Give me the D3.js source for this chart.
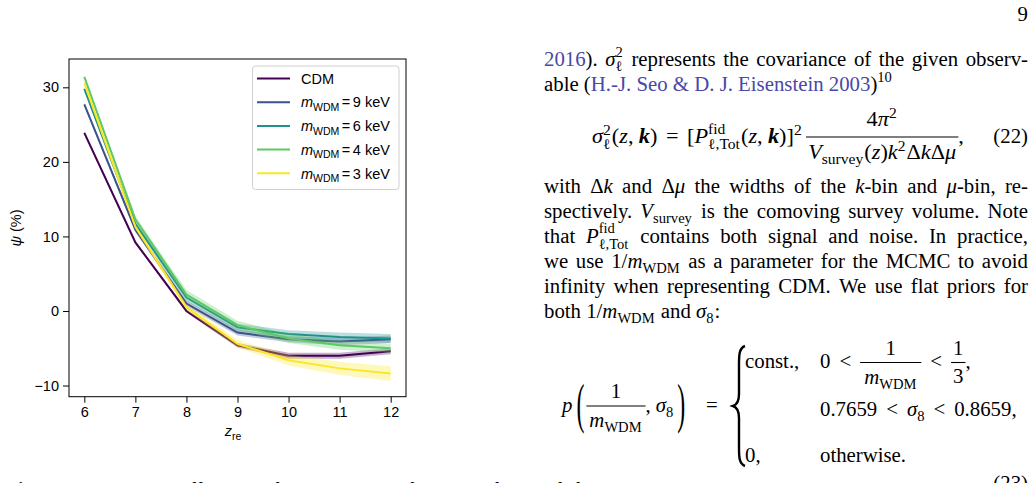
<!DOCTYPE html>
<html>
<head>
<meta charset="utf-8">
<script src="https://cdn.jsdelivr.net/npm/d3@7"></script>
<style>
  html, body { margin: 0; padding: 0; background: #fff; }
  svg { display: block; }
</style>
</head>
<body>
<div id="page"></div>
<script>
// Chart data
const zre = [6, 7, 8, 9, 10, 11, 12];
const seriesLabels = ["CDM", "9", "6", "4", "3"];
const seriesColors = ["#440154", "#3b528b", "#21918c", "#5ec962", "#fde725"];

const psiCDM  = [23.9, 9.2, 0.0, -4.6, -6.0, -6.0, -5.4];
const psi9keV = [27.7, 10.9, 1.0, -2.9, -3.8, -4.1, -3.8];
const psi6keV = [29.8, 11.7, 1.8, -2.2, -3.1, -3.5, -3.7];
const psi4keV = [31.4, 12.3, 2.2, -1.9, -3.7, -4.6, -5.0];
const psi3keV = [30.6, 11.3, 0.5, -4.4, -6.6, -7.7, -8.4];

const errCDM  = [0.2, 0.2, 0.2, 0.3, 0.4, 0.4, 0.4];
const err9keV = [0.2, 0.3, 0.4, 0.4, 0.4, 0.5, 0.5];
const err6keV = [0.2, 0.3, 0.5, 0.5, 0.5, 0.6, 0.6];
const err4keV = [0.2, 0.4, 0.6, 0.6, 0.6, 0.6, 0.6];
const err3keV = [0.2, 0.3, 0.4, 0.5, 0.7, 0.9, 1.0];

const yTicks = [-10, 0, 10, 20, 30];
const xTicks = [6, 7, 8, 9, 10, 11, 12];

const seriesValues = [psiCDM, psi9keV, psi6keV, psi4keV, psi3keV];
const seriesErrors = [errCDM, err9keV, err6keV, err4keV, err3keV];

const W = 1035, H = 483;
const SANS = "'Liberation Sans', Arial, Helvetica, sans-serif";
const SERIF = "'Liberation Serif', 'Times New Roman', 'DejaVu Serif', serif";
const FS = 20.8;
const LINK = "#4848a8";

const svg = d3.select("#page").append("svg")
  .attr("width", W)
  .attr("height", H);

// ---------- chart ----------
const x = d3.scaleLinear().domain([5.7, 12.3]).range([69, 406]);
const y = d3.scaleLinear().domain([-11.5, 33.8]).range([396.7, 59]);

const chart = svg.append("g");

const area = d3.area()
  .x((d, i) => x(zre[i]))
  .y0(d => y(d[0]))
  .y1(d => y(d[1]));

const line = d3.line()
  .x((d, i) => x(zre[i]))
  .y(d => y(d));

seriesValues.forEach((vals, s) => {
  const band = vals.map((v, i) => [v - seriesErrors[s][i], v + seriesErrors[s][i]]);
  chart.append("path")
    .attr("d", area(band))
    .attr("fill", seriesColors[s])
    .attr("fill-opacity", 0.3);
  chart.append("path")
    .attr("d", line(vals))
    .attr("fill", "none")
    .attr("stroke", seriesColors[s])
    .attr("stroke-width", 2);
});

const minus = d => d < 0 ? "\u2212" + Math.abs(d) : String(d);

const yAxis = chart.append("g")
  .attr("transform", "translate(69,0)")
  .call(d3.axisLeft(y).tickValues(yTicks).tickSize(6).tickPadding(4).tickFormat(minus));
const xAxis = chart.append("g")
  .attr("transform", "translate(0,396.7)")
  .call(d3.axisBottom(x).tickValues(xTicks).tickSize(6).tickPadding(4).tickFormat(d3.format("d")));

[yAxis, xAxis].forEach(a => {
  a.select(".domain").remove();
  a.selectAll("line").attr("stroke", "#000").attr("stroke-width", 1);
  a.selectAll("text")
    .attr("font-family", SANS)
    .attr("font-size", 14.5)
    .attr("fill", "#000");
});

chart.append("rect")
  .attr("x", 69).attr("y", 59)
  .attr("width", 406 - 69).attr("height", 396.7 - 59)
  .attr("fill", "none")
  .attr("stroke", "#000")
  .attr("stroke-width", 1);

// axis labels
const xl = chart.append("text")
  .attr("x", 233).attr("y", 436)
  .attr("text-anchor", "middle")
  .attr("font-family", SANS)
  .attr("font-size", 14.5);
xl.append("tspan").attr("font-style", "italic").text("z");
xl.append("tspan").attr("font-size", 10.5).attr("dy", 3.5).text("re");

const yl = chart.append("text")
  .attr("transform", "translate(21,228) rotate(-90)")
  .attr("text-anchor", "middle")
  .attr("font-family", SANS)
  .attr("font-size", 14.5);
yl.append("tspan").attr("font-style", "italic").text("\u03c8");
yl.append("tspan").text(" (%)");

// legend
const legend = chart.append("g");
legend.append("rect")
  .attr("x", 252.5).attr("y", 66)
  .attr("width", 146.5).attr("height", 123.5)
  .attr("rx", 3)
  .attr("fill", "#fff")
  .attr("fill-opacity", 0.8)
  .attr("stroke", "#d0d0d0")
  .attr("stroke-width", 1);

seriesLabels.forEach((lab, i) => {
  const ly = 78.5 + i * 23.7;
  legend.append("line")
    .attr("x1", 257).attr("x2", 290)
    .attr("y1", ly).attr("y2", ly)
    .attr("stroke", seriesColors[i])
    .attr("stroke-width", 2);
  const t = legend.append("text")
    .attr("x", 301).attr("y", ly + 5.2)
    .attr("font-family", SANS)
    .attr("font-size", 14.5);
  if (lab === "CDM") {
    t.text("CDM");
  } else {
    t.append("tspan").attr("font-style", "italic").text("m");
    t.append("tspan").attr("font-size", 10.5).attr("dy", 3.5).text("WDM");
    t.append("tspan").attr("dy", -3.5).attr("dx", 2.5).text("=");
    t.append("tspan").attr("dx", 2.5).text(lab + " keV");
  }
});

// ---------- text column (small typesetting helpers) ----------
const page = svg.append("g");
let target = page; // group that new text pieces go into

function styleText(sel, st) {
  sel.attr("font-family", SERIF)
    .attr("font-size", st.size || FS)
    .attr("font-style", st.it ? "italic" : "normal")
    .attr("font-weight", st.b ? "bold" : "normal")
    .attr("fill", st.link ? LINK : "#000");
}

function measure(str, st) {
  const el = target.append("text").text(str);
  styleText(el, st);
  return { el, w: el.node().getComputedTextLength() };
}

function buildRow(parts) {
  return parts.flatMap(buildBox);
}

function rowWidth(boxes) {
  return d3.sum(boxes, b => b.w);
}

function flatten(boxes, dx0, dy0) {
  let dx = dx0;
  const items = [];
  boxes.forEach(b => {
    if (b.kind === "box") b.items.forEach(it => items.push(Object.assign({}, it, { dx: it.dx + dx, dy: it.dy + dy0 })));
    dx += b.w;
  });
  return items;
}

function buildBox(part) {
  if (typeof part === "string") part = { t: part };
  if (part.kern !== undefined) return [{ kind: "kern", w: part.kern }];
  if (part.frac) {
    const num = buildRow(part.frac[0]);
    const den = buildRow(part.frac[1]);
    const wn = rowWidth(num), wd = rowWidth(den);
    const pad = part.pad !== undefined ? part.pad : 2;
    const w = Math.max(wn, wd) + 2 * pad;
    const ax = part.ax || 5.5;
    const items = flatten(num, pad + (w - 2 * pad - wn) / 2, -(part.nu || 15))
      .concat(flatten(den, pad + (w - 2 * pad - wd) / 2, part.dd || 15));
    const bar = target.append("line").attr("stroke", "#000").attr("stroke-width", 1.1);
    items.push({ node: bar, line: true, dx: 0, dy: -ax, len: w });
    return [{ kind: "box", w, items }];
  }
  if (part.sup !== undefined || part.sub !== undefined) {
    const size = part.size || FS * 0.7;
    const items = [];
    let w = 0;
    if (part.sup !== undefined) {
      const m = measure(part.sup, { size, it: part.supIt });
      items.push({ node: m.el, dx: 0, dy: part.supDy || -FS * 0.4 });
      w = Math.max(w, m.w);
    }
    if (part.sub !== undefined) {
      const m = measure(part.sub, { size, it: part.subIt });
      items.push({ node: m.el, dx: part.subDx || 0, dy: part.subDy || FS * 0.27 });
      w = Math.max(w, m.w + (part.subDx || 0));
    }
    return [{ kind: "box", w: w + 1, items }];
  }
  const out = [];
  part.t.split(/( )/).forEach(tok => {
    if (!tok) return;
    if (tok === " ") out.push({ kind: "space", w: FS * 0.25 });
    else {
      const m = measure(tok, part);
      out.push({ kind: "box", w: m.w, items: [{ node: m.el, dx: 0, dy: part.dy || 0 }] });
    }
  });
  return out;
}

function place(boxes, x0, y0, extra) {
  let xx = x0;
  boxes.forEach(b => {
    if (b.kind === "box") {
      b.items.forEach(it => {
        if (it.line) {
          it.node.attr("x1", xx + it.dx).attr("x2", xx + it.dx + it.len)
            .attr("y1", y0 + it.dy).attr("y2", y0 + it.dy);
        } else {
          it.node.attr("x", xx + it.dx).attr("y", y0 + it.dy);
        }
      });
    }
    xx += b.w + (b.kind === "space" ? extra : 0);
  });
  return xx;
}

const COL_X = 544, COL_W = 484;

function textLine(yBase, parts, justify) {
  const boxes = buildRow(parts);
  const nat = rowWidth(boxes);
  const nSp = boxes.filter(b => b.kind === "space").length;
  const extra = justify && nSp ? (COL_W - nat) / nSp : 0;
  place(boxes, COL_X, yBase, extra);
}

function mathRow(x0, yBase, parts) {
  return place(buildRow(parts), x0, yBase, 0);
}

const it = s => ({ t: s, it: true });
const bk = s => ({ t: s, it: true, b: true });
const sub = s => ({ sub: s, subDy: FS * 0.25 });
const fidTot = { sup: "fid", sub: "\u2113,Tot", supDy: -FS * 0.45, subDy: FS * 0.3 };

// page number
page.append("text").attr("x", 1028).attr("y", 21).attr("text-anchor", "end")
  .call(styleText, {}).text("9");

// paragraph lines
textLine(65.5, [{ t: "2016", link: true }, "). ", it("\u03c3"), { sup: "2", sub: "\u2113" },
  " represents the covariance of the given observ-"], true);
textLine(90.5, ["able (", { t: "H.-J. Seo & D. J. Eisenstein 2003", link: true }, ")",
  { sup: "10", supDy: -FS * 0.42 }], false);

// equation (22), widened a little to match the wider math font of the original
{
  const yb = 143, x0 = 592;
  target = page.append("g").attr("transform", `translate(${x0},0) scale(1.07,1) translate(${-x0},0)`);
  mathRow(x0, yb, [
    it("\u03c3"), { sup: "2", sub: "\u2113" }, "(", it("z"), ",", { kern: 5 }, bk("k"), ")",
    { kern: 8 }, "=", { kern: 8 }, "[", it("P"), fidTot,
    "(", it("z"), ",", { kern: 5 }, bk("k"), ")", "]", { sup: "2" }, { kern: 3 },
    { frac: [["4", it("\u03c0"), { sup: "2" }],
             [it("V"), sub("survey"), "(", it("z"), ")", it("k"), { sup: "2" }, "\u0394", it("k"), "\u0394", it("\u03bc")]],
      nu: 17, dd: 16, ax: 6 },
    ","
  ]);
  target = page;
  page.append("text").attr("x", 1028).attr("y", yb).attr("text-anchor", "end")
    .call(styleText, {}).text("(22)");
}

textLine(192.5, ["with ", "\u0394", it("k"), " and ", "\u0394", it("\u03bc"), " the widths of the ", it("k"),
  "-bin and ", it("\u03bc"), "-bin, re-"], true);
textLine(217.5, ["spectively. ", it("V"), sub("survey"), " is the comoving survey volume. Note"], true);
textLine(242.5, ["that ", it("P"), fidTot, " contains both signal and noise. In practice,"], true);
textLine(267.5, ["we use 1/", it("m"), sub("WDM"), " as a parameter for the MCMC to avoid"], true);
textLine(292.5, ["infinity when representing CDM. We use flat priors for"], true);
textLine(317.5, ["both 1/", it("m"), sub("WDM"), " and ", it("\u03c3"), sub("8"), ":"], false);

// equation (23)
{
  const yb = 412;
  // tall thin parenthesis: a normal glyph stretched vertically around the math axis
  const bigParen = (s, px) => {
    const t = page.append("text")
      .attr("transform", `translate(${px},${yb - 6}) scale(1.15,2.6)`)
      .attr("y", 6.3)
      .call(styleText, {}).text(s);
    return t.node().getComputedTextLength() * 1.15;
  };
  let xx = mathRow(562, yb, [it("p"), { kern: 4 }]);
  xx += bigParen("(", xx);
  xx = mathRow(xx + 2, yb, [
    { frac: [["1"], [it("m"), sub("WDM")]], nu: 14, dd: 15, ax: 6, pad: 3 },
    ",", { kern: 5 }, it("\u03c3"), sub("8"), { kern: 3 }
  ]);
  bigParen(")", xx);
  mathRow(706, yb, ["="]);

  // big brace
  const bx = 742, top = 346, bot = 466, mid = (top + bot) / 2;
  page.append("path")
    .attr("d", `M${bx + 3},${top} C${bx - 3},${top + 2} ${bx - 3},${top + 10} ${bx - 3},${top + 18}
      L${bx - 3},${mid - 12} C${bx - 3},${mid - 4} ${bx - 6},${mid - 1} ${bx - 9},${mid}
      C${bx - 6},${mid + 1} ${bx - 3},${mid + 4} ${bx - 3},${mid + 12}
      L${bx - 3},${bot - 18} C${bx - 3},${bot - 10} ${bx - 3},${bot - 2} ${bx + 3},${bot}`)
    .attr("fill", "none")
    .attr("stroke", "#000")
    .attr("stroke-width", 2.4);

  const r1 = 368, r2 = 416, r3 = 462;
  mathRow(745, r1, ["const.,"]);
  mathRow(820, r1, ["0", { kern: 9 }, "<", { kern: 9 },
    { frac: [["1"], [it("m"), sub("WDM")]], nu: 13, dd: 16, ax: 5.5, pad: 4 },
    { kern: 9 }, "<", { kern: 9 },
    { frac: [["1"], ["3"]], nu: 13, dd: 15, ax: 5.5, pad: 2 }, ","]);
  mathRow(820, r2, ["0.7659", { kern: 9 }, "<", { kern: 9 }, it("\u03c3"), sub("8"), { kern: 8 }, "<", { kern: 9 }, "0.8659,"]);
  mathRow(745, r3, ["0,"]);
  mathRow(820, r3, ["otherwise."]);
  page.append("text").attr("x", 1028).attr("y", 490).attr("text-anchor", "end")
    .call(styleText, {}).text("(23)");
}

// caption (cut off at the bottom of the page)
{
  const cap = page.append("text").attr("x", 5).attr("y", 497).call(styleText, {});
  cap.append("tspan").attr("font-weight", "bold").text("Figure 5.");
  cap.append("tspan").attr("dx", 14).text("Relative difference of the signal as a function of redshift for all");
}
</script>
</body>
</html>
